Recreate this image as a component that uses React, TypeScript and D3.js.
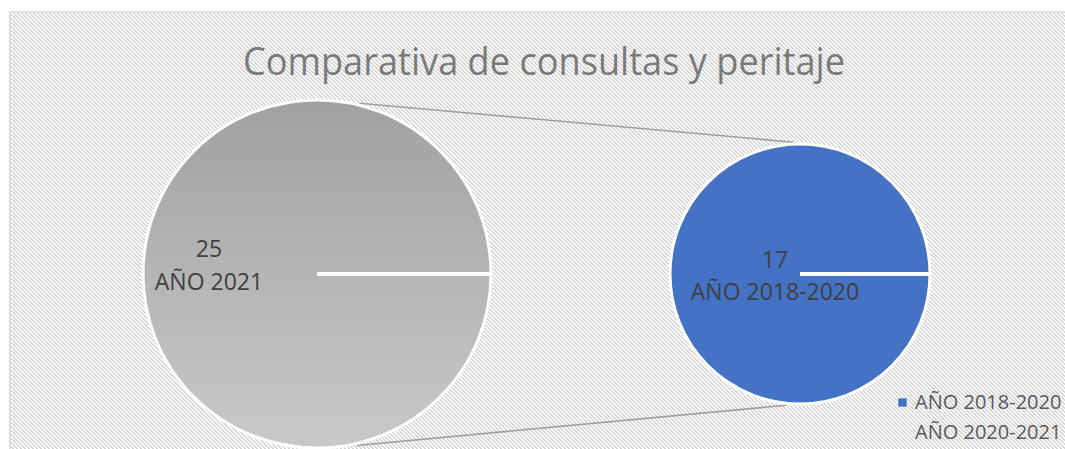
import React from 'react';
import * as d3 from 'd3';

// datos
const categories = ['AÑO 2018-2020', 'AÑO 2020-2021'];
const values = [17, 25];
const sliceLabels = ['AÑO 2018-2020', 'AÑO 2021'];
const title = 'Comparativa de consultas y peritaje';

const W = 1065;
const H = 449;
const FONT = '"Open Sans", "DejaVu Sans", sans-serif';

// celdas del trama diagonal 4x4 (dos píxeles por fila)
const hatchCells = d3.range(4).flatMap((y) => [[y % 4, y], [(y + 1) % 4, y]]);

export default function App() {
	const pieGen = d3
		.pie<number>()
		.sort(null)
		.startAngle(Math.PI / 2)
		.endAngle(Math.PI / 2 + 2 * Math.PI);

	// primario (izquierda) = 2020-2021, secundario (derecha) = 2018-2020
	const main = { cx: 317, cy: 274, r: 174, value: values[1], label: sliceLabels[1] };
	const sub = { cx: 800, cy: 274, r: 130, value: values[0], label: sliceLabels[0] };

	const mainSlice = pieGen([main.value])[0];
	const subSlice = pieGen([sub.value])[0];
	const mainArc = d3.arc<d3.PieArcDatum<number>>().innerRadius(0).outerRadius(main.r);
	const subArc = d3.arc<d3.PieArcDatum<number>>().innerRadius(0).outerRadius(sub.r);

	const mainEdge = d3.pointRadial(mainSlice.startAngle, main.r);
	const subEdge = d3.pointRadial(subSlice.startAngle, sub.r);

	// líneas de conexión
	const deg = (d: number) => (d * Math.PI) / 180;
	const c1a = d3.pointRadial(deg(14), main.r + 2);
	const c1b = d3.pointRadial(deg(-3), sub.r + 2);
	const c2a = d3.pointRadial(deg(167), main.r + 2);
	const c2b = d3.pointRadial(deg(186), sub.r + 2);
	const link = d3.line();

	return (
		<div style={{ position: 'absolute', left: 0, top: 0 }}>
			<svg width={W} height={H} viewBox={`0 0 ${W} ${H}`} style={{ display: 'block' }}>
				<defs>
					<pattern id="hatch" width="4" height="4" patternUnits="userSpaceOnUse">
						<rect width="4" height="4" fill="#ffffff" />
						{hatchCells.map(([x, y]) => (
							<rect key={`${x}-${y}`} x={x} y={y} width={1} height={1} fill="#d6d6d6" shapeRendering="crispEdges" />
						))}
					</pattern>
					<linearGradient id="grayFill" x1="0" y1="0" x2="0" y2="1">
						<stop offset="0%" stopColor="#a1a1a1" />
						<stop offset="100%" stopColor="#c9c9c9" />
					</linearGradient>
				</defs>
				<rect width={W} height={H} fill="#ffffff" />
				<rect x={10} y={12} width={W + 20} height={H + 20} fill="url(#hatch)" stroke="#d9d9d9" strokeWidth={1.5} />

				<text
					x={544}
					y={75}
					textAnchor="middle"
					fontFamily={FONT}
					fontSize={38}
					fill="#7a7a7a"
					textLength={602}
					lengthAdjust="spacingAndGlyphs"
				>
					{title}
				</text>

				<path
					d={link([[main.cx + c1a[0], main.cy + c1a[1]], [sub.cx + c1b[0], sub.cy + c1b[1]]]) || ''}
					stroke="#9e9e9e"
					strokeWidth={1.6}
					fill="none"
				/>
				<path
					d={link([[main.cx + c2a[0], main.cy + c2a[1]], [sub.cx + c2b[0], sub.cy + c2b[1]]]) || ''}
					stroke="#9e9e9e"
					strokeWidth={1.6}
					fill="none"
				/>

				<g transform={`translate(${main.cx},${main.cy})`}>
					<path d={mainArc(mainSlice) || ''} fill="url(#grayFill)" stroke="#ffffff" strokeWidth={3} />
					<line x1={0} y1={0} x2={mainEdge[0]} y2={mainEdge[1]} stroke="#ffffff" strokeWidth={4} />
					<text x={-108} y={257 - main.cy} textAnchor="middle" fontFamily={FONT} fontSize={23} fill="#404040">
						{main.value}
					</text>
					<text x={-108} y={290 - main.cy} textAnchor="middle" fontFamily={FONT} fontSize={23} fill="#404040">
						{main.label}
					</text>
				</g>

				<g transform={`translate(${sub.cx},${sub.cy})`}>
					<path d={subArc(subSlice) || ''} fill="#4472c4" stroke="#ffffff" strokeWidth={3} />
					<line x1={0} y1={0} x2={subEdge[0]} y2={subEdge[1]} stroke="#ffffff" strokeWidth={4} />
					<text x={-25} y={268 - sub.cy} textAnchor="middle" fontFamily={FONT} fontSize={23} fill="#404040">
						{sub.value}
					</text>
					<text x={-25} y={300 - sub.cy} textAnchor="middle" fontFamily={FONT} fontSize={23} fill="#404040">
						{sub.label}
					</text>
				</g>

				<g transform="translate(898,398)">
					{categories.map((c, i) => (
						<g key={c} transform={`translate(0,${i * 30})`}>
							{i === 0 ? <rect width={9} height={9} fill="#4472c4" stroke="#ffffff" strokeWidth={0.5} /> : null}
							<text x={17} y={11} fontFamily={FONT} fontSize={20} fill="#595959">
								{c}
							</text>
						</g>
					))}
				</g>
			</svg>
		</div>
	);
}
